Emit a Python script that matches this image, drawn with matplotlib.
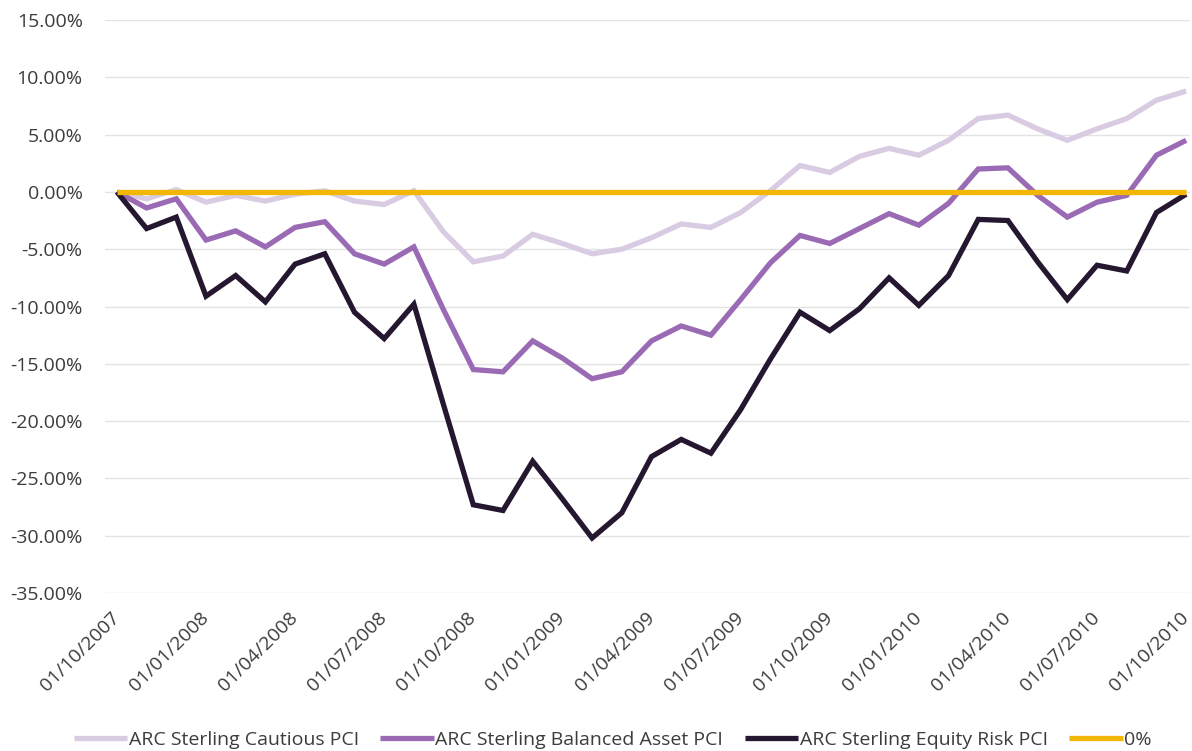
import matplotlib
matplotlib.use("Agg")
import matplotlib.pyplot as plt
import matplotlib.patheffects as pe
import numpy as np
import pandas as pd

months = [d.strftime("%d/%m/%Y") for d in pd.date_range("2007-10-01", periods=37, freq="MS")]

cautious = [0.0, -0.6, 0.2, -0.9, -0.3, -0.8, -0.2, 0.1, -0.8, -1.1, 0.1, -3.5, -6.1,
            -5.6, -3.7, -4.5, -5.4, -5.0, -4.0, -2.8, -3.1, -1.8, 0.1, 2.3, 1.7,
            3.1, 3.8, 3.2, 4.5, 6.4, 6.7, 5.5, 4.5, 5.5, 6.4, 8.0, 8.8]
balanced = [0.0, -1.4, -0.6, -4.2, -3.4, -4.8, -3.1, -2.6, -5.4, -6.3, -4.8, -10.3, -15.5,
            -15.7, -13.0, -14.5, -16.3, -15.7, -13.0, -11.7, -12.5, -9.4, -6.2, -3.8, -4.5,
            -3.2, -1.9, -2.9, -1.0, 2.0, 2.1, -0.3, -2.2, -0.9, -0.3, 3.2, 4.5]
equity = [0.0, -3.2, -2.2, -9.1, -7.3, -9.6, -6.3, -5.4, -10.5, -12.8, -9.8, -18.6, -27.3,
          -27.8, -23.5, -26.8, -30.2, -28.0, -23.1, -21.6, -22.8, -19.0, -14.6, -10.5, -12.1,
          -10.2, -7.5, -9.9, -7.3, -2.4, -2.5, -6.1, -9.4, -6.4, -6.9, -1.8, -0.2]
zero = [0.0] * len(months)

series_names = ["ARC Sterling Cautious PCI", "ARC Sterling Balanced Asset PCI",
                "ARC Sterling Equity Risk PCI", "0%"]
colors = ["#d8cbe2", "#9a6bb4", "#25172f", "#f2b705"]
yticks = [15, 10, 5, 0, -5, -10, -15, -20, -25, -30, -35]

plt.rcParams["font.family"] = ["Open Sans", "DejaVu Sans"]

fig = plt.figure(figsize=(11.92, 7.51), dpi=100)
ax = fig.add_axes([105 / 1192, 1 - 593 / 751, 1085 / 1192, (593 - 20) / 751])

x = np.arange(len(months))
shadow = [pe.SimpleLineShadow(offset=(1.5, -1.8), alpha=0.25, shadow_color="#555555"), pe.Normal()]
for vals, name, col in zip([cautious, balanced, equity, zero], series_names, colors):
    ax.plot(x, vals, color=col, lw=3.8, label=name, solid_joinstyle="miter",
            solid_capstyle="butt", path_effects=shadow)

ax.set_ylim(-35, 15)
ax.set_xlim(-0.40, len(months) - 1 + 0.13)
ax.set_yticks(yticks)
ax.set_yticklabels([f"{v:.2f}%" for v in yticks])
ax.grid(axis="y", color="#e3e3e3", lw=1)
ax.set_axisbelow(True)
for s in ax.spines.values():
    s.set_visible(False)

tick_idx = x[::3]
ax.set_xticks(tick_idx)
ax.set_xticklabels([months[i] for i in tick_idx], rotation=45, ha="right", va="center",
                   rotation_mode="anchor", fontsize=14, color="#3c3c3c")
ax.tick_params(axis="both", length=0)
ax.tick_params(axis="y", labelsize=14, labelcolor="#3c3c3c", pad=16)
ax.tick_params(axis="x", pad=16)

handles, labels = ax.get_legend_handles_labels()
for h in handles:
    h.set_path_effects([])
leg = fig.legend(handles, labels, loc="lower center", bbox_to_anchor=(0.514, -0.02), ncol=4,
                 frameon=False, fontsize=14, handlelength=2.75, handletextpad=0.08,
                 columnspacing=1.1)
for t in leg.get_texts():
    t.set_color("#3c3c3c")

fig.savefig("out.png", dpi=100)
